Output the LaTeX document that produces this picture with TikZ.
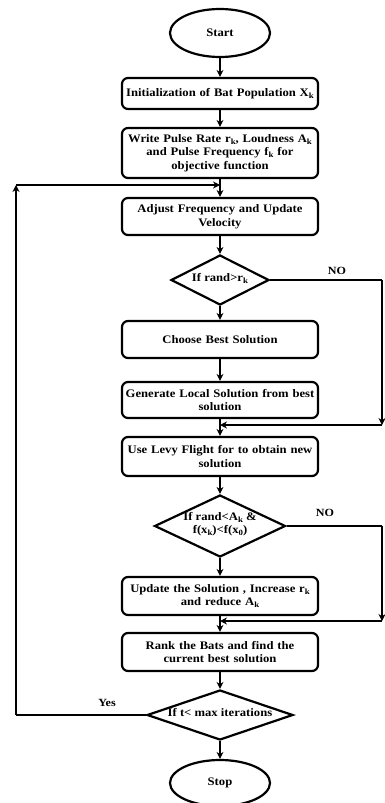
\documentclass[tikz,border=0pt]{standalone}
\usepackage{fontspec}
\setmainfont[FakeStretch=1.1]{Liberation Serif}
\usetikzlibrary{shapes.geometric,arrows.meta}
\newcommand\sbk[1]{\raisebox{-0.4ex}{\footnotesize #1}}
\newcommand\fixtxt[1]{\raisebox{-2.8pt}{\makebox[0pt]{\smash{\begin{tabular}{@{}c@{}}#1\end{tabular}}}}}
\begin{document}
\begin{tikzpicture}[x=1pt,y=-1pt,
  font=\bfseries\fontsize{11.5}{13.5}\selectfont,
  boxstep/.style={draw,line width=2.2pt,rounded corners=6pt,minimum width=196pt,text width=194pt,align=center,inner sep=0pt},
  decide/.style={draw,diamond,line width=2.2pt,inner sep=0pt},
  term/.style={draw,ellipse,line width=2.2pt,minimum width=100pt,minimum height=48pt,inner sep=0pt},
  conn/.style={line width=1.4pt,-{Stealth[length=7pt,width=7pt]}},
  plain/.style={line width=1.4pt},
  lbl/.style={font=\bfseries\fontsize{11}{12}\selectfont}]
\useasboundingbox (0,0) rectangle (385,803);
\node[term] (start) at (220,33) {Start};
\node[boxstep,minimum height=31pt] (b1) at (220,93.5) {Initialization of Bat Population X\sbk{k}};
\node[boxstep,minimum height=50pt] (b2) at (220,153) {Write Pulse Rate r\sbk{k}, Loudness A\sbk{k}\\ and Pulse Frequency f\sbk{k} for\\ objective function};
\node[boxstep,minimum height=37pt] (b3) at (220,216.5) {Adjust Frequency and Update\\ Velocity};
\node[decide,minimum width=98pt,minimum height=50pt] (d1) at (220,280) {\fixtxt{If rand>r\sbk{k}}};
\node[boxstep,minimum height=37pt] (b4) at (220,339.5) {Choose Best Solution};
\node[boxstep,minimum height=36pt] (b5) at (220,400) {Generate Local Solution from best\\ solution};
\node[boxstep,minimum height=39pt] (b6) at (220,456.5) {Use Levy Flight for to obtain new\\ solution};
\node[decide,minimum width=131pt,minimum height=62pt] (d2) at (220,526) {\fixtxt{If rand<A\sbk{k} \&\\ f(x\sbk{k})<f(x\sbk{0})}};
\node[boxstep,minimum height=38pt] (b7) at (220,596) {Update the Solution , Increase r\sbk{k}\\ and reduce A\sbk{k}};
\node[boxstep,minimum height=38pt] (b8) at (220,652) {Rank the Bats and find the\\ current best solution};
\node[decide,minimum width=146pt,minimum height=50pt] (d3) at (220,715) {\fixtxt{If t< max iterations}};
\node[term,minimum height=46pt] (stop) at (220,783) {Stop};
\coordinate (m1) at (220,185);
\coordinate (m2) at (220,425);
\coordinate (m3) at (220,621);
\coordinate (r1) at (382,280);
\coordinate (r1b) at (382,425);
\coordinate (r2) at (382,526);
\coordinate (r2b) at (382,621);
\coordinate (l1) at (16,715);
\coordinate (l2) at (16,185);
\draw[conn] (start) -- (b1);
\draw[conn] (b1) -- (b2);
\draw[conn] (b2) -- (b3);
\draw[conn] (b3) -- (d1);
\draw[conn] (d1) -- (b4);
\draw[conn] (b4) -- (b5);
\draw[conn] (b5) -- (b6);
\draw[conn] (b6) -- (d2);
\draw[conn] (d2) -- (b7);
\draw[conn] (b7) -- (b8);
\draw[conn] (b8) -- (d3);
\draw[conn] (d3) -- (stop);
\draw[plain] (d1.east) -- (r1);
\draw[conn] (r1) -- (r1b);
\draw[conn] (r1b) -- (m2);
\draw[plain] (d2.east) -- (r2);
\draw[conn] (r2) -- (r2b);
\draw[conn] (r2b) -- (m3);
\draw[plain] (d3.west) -- (l1);
\draw[conn] (l1) -- (l2);
\draw[conn] (l2) -- (m1);
\node[lbl] (no1) at (337,271) {NO};
\node[lbl] (no2) at (325,513) {NO};
\node[lbl] (yes) at (107,703) {Yes};
\end{tikzpicture}
\end{document}
